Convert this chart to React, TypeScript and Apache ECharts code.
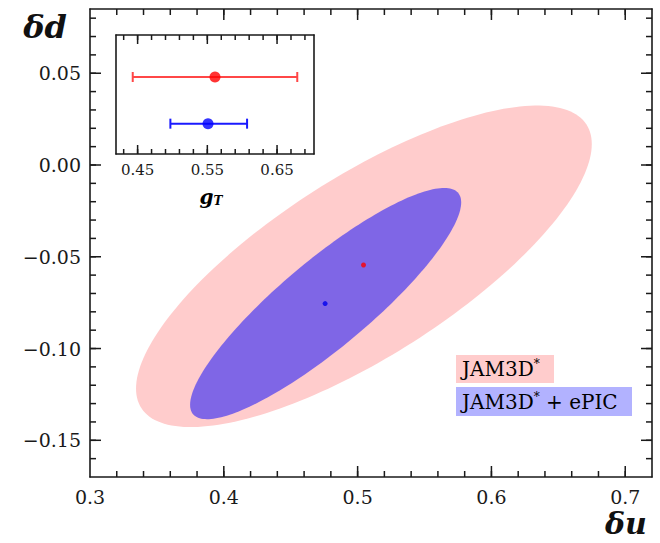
import { useEffect, useRef } from "react";
import * as echarts from "echarts";

// ---- main panel: δu vs δd ----
const U_RANGE = [0.3, 0.72];
const D_RANGE = [-0.17, 0.085];
const U_TICKS = [0.3, 0.4, 0.5, 0.6, 0.7];
const D_TICKS = [-0.15, -0.1, -0.05, 0, 0.05];
const U_MINOR_STEP = 0.02;
const D_MINOR_STEP = 0.01;

// confidence regions: [centre δu, centre δd, half-extent δu, half-extent δd, correlation]
const REGION_JAM3D = [0.5047, -0.0552, 0.1703, 0.0876, 0.76];
const REGION_EPIC = [0.4761, -0.0755, 0.1013, 0.063, 0.875];
// central values [δu, δd]
const CENTRAL_JAM3D = [0.5044, -0.0545];
const CENTRAL_EPIC = [0.4757, -0.0755];

// ---- inset: tensor charge g_T ----
const G_RANGE = [0.419, 0.703];
const G_TICKS = [0.45, 0.55, 0.65];
const G_MINOR_STEP = 0.02;
const ROW_RANGE = [0.35, 2.9];
// [central, low, high, row]
const GT_JAM3D = [0.561, 0.443, 0.679, 2];
const GT_EPIC = [0.551, 0.497, 0.607, 1];

const LEGEND_LABELS = ["JAM3D", "JAM3D"];

const SERIF = '"DejaVu Serif", "Liberation Serif", serif';
const INK = "#1a1a1a";
const PINK = "#ffcccc";
const BLUE_FILL = "rgba(0,0,255,0.5)";
const BLUE_BOX = "#b2b2ff";

// tick positions on a fixed step, strictly inside the range
function stepTicks(range: number[], anchor: number, step: number) {
  const out: number[] = [];
  const n0 = Math.ceil((range[0] - anchor) / step - 1e-9);
  const n1 = Math.floor((range[1] - anchor) / step + 1e-9);
  for (let n = n0; n <= n1; n++) {
    const v = +(anchor + n * step).toFixed(4);
    if (v > range[0] + 1e-9 && v < range[1] - 1e-9) out.push(v);
  }
  return out;
}

const fmtSigned = (v: number, d: number) =>
  (v < -1e-9 ? "\u2212" : "") + Math.abs(v).toFixed(d);

const frameLine = { show: true, onZero: false, lineStyle: { color: INK, width: 1.6 } };

function frameAxis(gridIndex: number, position: string, range: number[], label: any) {
  return {
    type: "value",
    gridIndex,
    position,
    min: range[0],
    max: range[1],
    axisLine: frameLine,
    axisTick: { show: false },
    axisLabel: label ? { show: true, ...label } : { show: false },
    splitLine: { show: false },
    minorTick: { show: false },
  };
}

type TickSet = { values: number[]; len: number };

// inward frame ticks as thin filled bars, positioned through api.coord
function tickLayer(
  axisIndex: number,
  xr: number[],
  yr: number[],
  xSets: TickSet[],
  ySets: TickSet[]
) {
  const anchor = [(xr[0] + xr[1]) / 2, (yr[0] + yr[1]) / 2];
  return {
    type: "custom",
    xAxisIndex: axisIndex,
    yAxisIndex: axisIndex,
    encode: { x: 0, y: 1 },
    z: 10,
    data: [anchor],
    renderItem: (params: any, api: any) => {
      const children: any[] = [];
      const bl = api.coord([xr[0], yr[0]]);
      const tr = api.coord([xr[1], yr[1]]);
      const w = 1.5;
      const bar = (x: number, y: number, width: number, height: number) =>
        children.push({
          type: "rect",
          shape: { x, y, width, height },
          style: { fill: INK },
        });
      xSets.forEach((s) =>
        s.values.forEach((v) => {
          const x = api.coord([v, yr[0]])[0];
          bar(x - w / 2, bl[1] - s.len, w, s.len);
          bar(x - w / 2, tr[1], w, s.len);
        })
      );
      ySets.forEach((s) =>
        s.values.forEach((v) => {
          const y = api.coord([xr[0], v])[1];
          bar(bl[0], y - w / 2, s.len, w);
          bar(tr[0] - s.len, y - w / 2, s.len, w);
        })
      );
      return { type: "group", children };
    },
  };
}

export default function App() {
  const ref = useRef<HTMLDivElement>(null);

  useEffect(() => {
    if (!ref.current) return;
    const chart = echarts.init(ref.current, null, { renderer: "svg" });

    const uMinor = stepTicks(U_RANGE, 0.3, U_MINOR_STEP);
    const dMinor = stepTicks(D_RANGE, 0, D_MINOR_STEP);
    const gMinor = stepTicks(G_RANGE, 0.45, G_MINOR_STEP);

    const mainLabel = { fontFamily: SERIF, fontSize: 19, color: INK };
    const insetLabel = { fontFamily: SERIF, fontSize: 15, color: INK };

    const ellipse = (fill: string) => (params: any, api: any) => {
      const cx = api.value(0);
      const cy = api.value(1);
      const sx = api.value(2);
      const sy = api.value(3);
      const r = api.value(4);
      const k = Math.sqrt(1 - r * r);
      const pts: number[][] = [];
      const n = 200;
      for (let i = 0; i < n; i++) {
        const t = (i / n) * Math.PI * 2;
        pts.push(
          api.coord([cx + sx * Math.cos(t), cy + sy * (r * Math.cos(t) + k * Math.sin(t))])
        );
      }
      return { type: "polygon", shape: { points: pts }, style: { fill } };
    };

    const errorBar = (color: string) => (params: any, api: any) => {
      const row = api.value(3);
      const a = api.coord([api.value(1), row]);
      const b = api.coord([api.value(2), row]);
      const h = 5;
      const st = { stroke: color, lineWidth: 2 };
      return {
        type: "group",
        children: [
          { type: "line", shape: { x1: a[0], y1: a[1], x2: b[0], y2: b[1] }, style: st },
          { type: "line", shape: { x1: a[0], y1: a[1] - h, x2: a[0], y2: a[1] + h }, style: st },
          { type: "line", shape: { x1: b[0], y1: b[1] - h, x2: b[0], y2: b[1] + h }, style: st },
        ],
      };
    };

    chart.setOption({
      animation: false,
      backgroundColor: "#ffffff",
      grid: [
        { left: 90, top: 9, width: 562, height: 468 },
        { left: 116, top: 35, width: 198, height: 119 },
      ],
      xAxis: [
        frameAxis(0, "bottom", U_RANGE, {
          ...mainLabel,
          margin: 10,
          customValues: U_TICKS,
          formatter: (v: number) => v.toFixed(1),
        }),
        frameAxis(1, "bottom", G_RANGE, {
          ...insetLabel,
          margin: 8,
          customValues: G_TICKS,
          formatter: (v: number) => v.toFixed(2),
        }),
        frameAxis(0, "top", U_RANGE, null),
        frameAxis(1, "top", G_RANGE, null),
      ],
      yAxis: [
        frameAxis(0, "left", D_RANGE, {
          ...mainLabel,
          margin: 9,
          customValues: D_TICKS,
          formatter: (v: number) => fmtSigned(v, 2),
        }),
        frameAxis(1, "left", ROW_RANGE, null),
        frameAxis(0, "right", D_RANGE, null),
        frameAxis(1, "right", ROW_RANGE, null),
      ],
      series: [
        {
          type: "custom",
          xAxisIndex: 0,
          yAxisIndex: 0,
          encode: { x: 0, y: 1 },
          renderItem: ellipse(PINK),
          data: [REGION_JAM3D],
          z: 1,
        },
        {
          type: "custom",
          xAxisIndex: 0,
          yAxisIndex: 0,
          encode: { x: 0, y: 1 },
          renderItem: ellipse(BLUE_FILL),
          data: [REGION_EPIC],
          z: 2,
        },
        {
          type: "scatter",
          xAxisIndex: 0,
          yAxisIndex: 0,
          symbolSize: 5,
          itemStyle: { color: "#ff0000" },
          data: [CENTRAL_JAM3D],
          z: 3,
        },
        {
          type: "scatter",
          xAxisIndex: 0,
          yAxisIndex: 0,
          symbolSize: 5,
          itemStyle: { color: "#0000ee" },
          data: [CENTRAL_EPIC],
          z: 3,
        },
        {
          type: "custom",
          xAxisIndex: 1,
          yAxisIndex: 1,
          encode: { x: [1, 2], y: 3 },
          renderItem: errorBar("#ff4747"),
          data: [GT_JAM3D],
          z: 3,
        },
        {
          type: "custom",
          xAxisIndex: 1,
          yAxisIndex: 1,
          encode: { x: [1, 2], y: 3 },
          renderItem: errorBar("#1a1aff"),
          data: [GT_EPIC],
          z: 3,
        },
        {
          type: "scatter",
          xAxisIndex: 1,
          yAxisIndex: 1,
          symbolSize: 11,
          itemStyle: { color: "#ff0000" },
          data: [[GT_JAM3D[0], GT_JAM3D[3]]],
          z: 4,
        },
        {
          type: "scatter",
          xAxisIndex: 1,
          yAxisIndex: 1,
          symbolSize: 11,
          itemStyle: { color: "#0000ff" },
          data: [[GT_EPIC[0], GT_EPIC[3]]],
          z: 4,
        },
        tickLayer(
          0,
          U_RANGE,
          D_RANGE,
          [
            { values: U_TICKS.filter((v) => v > U_RANGE[0]), len: 11 },
            { values: uMinor, len: 6 },
          ],
          [
            { values: D_TICKS, len: 11 },
            { values: dMinor, len: 6 },
          ]
        ),
        tickLayer(
          1,
          G_RANGE,
          ROW_RANGE,
          [
            { values: G_TICKS, len: 9 },
            { values: gMinor, len: 5 },
          ],
          []
        ),
      ],
      graphic: [
        {
          type: "text",
          x: 45,
          y: 27,
          style: {
            text: "\u03b4d",
            fontFamily: SERIF,
            fontStyle: "italic",
            fontWeight: "bold",
            fontSize: 32,
            fill: "#111",
            align: "center",
            verticalAlign: "middle",
          },
        },
        {
          type: "text",
          x: 626,
          y: 523,
          style: {
            text: "\u03b4u",
            fontFamily: SERIF,
            fontStyle: "italic",
            fontWeight: "bold",
            fontSize: 30,
            fill: "#111",
            align: "center",
            verticalAlign: "middle",
          },
        },
        {
          type: "text",
          x: 211,
          y: 195,
          style: {
            text: "{g|g}{t|T}",
            align: "center",
            verticalAlign: "middle",
            rich: {
              g: {
                fontFamily: SERIF,
                fontStyle: "italic",
                fontWeight: "bold",
                fontSize: 20,
                color: "#111",
                lineHeight: 24,
                verticalAlign: "bottom",
              },
              t: {
                fontFamily: SERIF,
                fontStyle: "italic",
                fontWeight: "bold",
                fontSize: 12,
                color: "#111",
                lineHeight: 20,
                verticalAlign: "bottom",
              },
            },
          },
        },
        {
          type: "rect",
          shape: { x: 456, y: 355, width: 98, height: 28 },
          style: { fill: PINK },
        },
        {
          type: "rect",
          shape: { x: 456, y: 387, width: 176, height: 29 },
          style: { fill: BLUE_BOX },
        },
        {
          type: "text",
          x: 462,
          y: 369,
          style: {
            text: `{n|${LEGEND_LABELS[0]}}{s|*}`,
            verticalAlign: "middle",
            rich: {
              n: { fontFamily: SERIF, fontSize: 20, color: "#222", lineHeight: 22 },
              s: { fontFamily: SERIF, fontSize: 12, color: "#222", lineHeight: 22, verticalAlign: "top" },
            },
          },
        },
        {
          type: "text",
          x: 462,
          y: 401.5,
          style: {
            text: `{n|${LEGEND_LABELS[1]}}{s|*}{n| + ePIC}`,
            verticalAlign: "middle",
            rich: {
              n: { fontFamily: SERIF, fontSize: 20, color: "#222", lineHeight: 22 },
              s: { fontFamily: SERIF, fontSize: 12, color: "#222", lineHeight: 22, verticalAlign: "top" },
            },
          },
        },
      ],
    });

    return () => chart.dispose();
  }, []);

  return (
    <div
      ref={ref}
      style={{ position: "fixed", left: 0, top: 0, width: 660, height: 543 }}
    />
  );
}
